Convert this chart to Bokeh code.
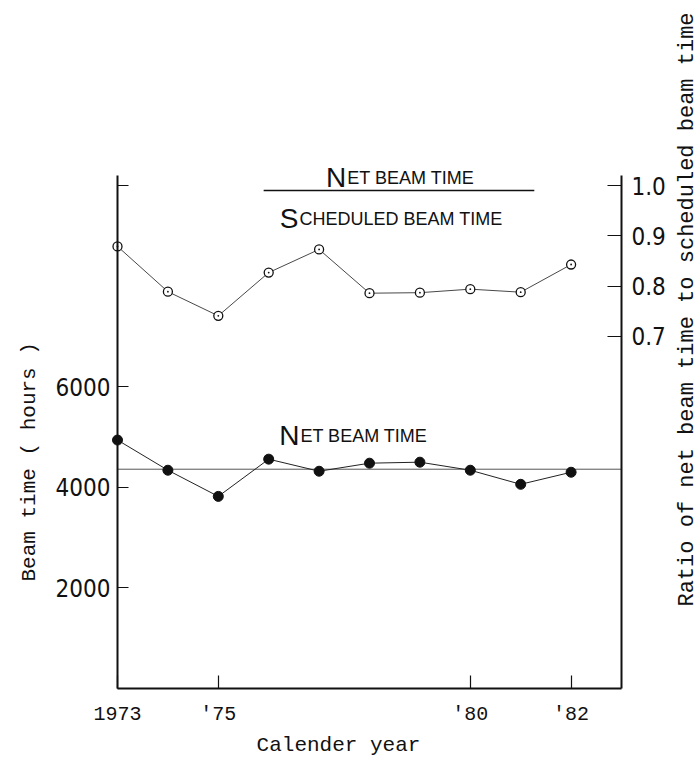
import math
from bokeh.plotting import figure
from bokeh.models import Range1d, LinearAxis, FixedTicker, Label, NumeralTickFormatter
from bokeh.embed import file_html
from bokeh.resources import INLINE

# ---- data ----
years = [1973, 1974, 1975, 1976, 1977, 1978, 1979, 1980, 1981, 1982]
net_hours = [4940, 4340, 3820, 4560, 4320, 4480, 4500, 4340, 4060, 4300]
ratio = [0.879, 0.789, 0.741, 0.827, 0.873, 0.786, 0.787, 0.794, 0.788, 0.843]
mean_hours = 4360

x_ticks = [1973, 1975, 1980, 1982]
x_tick_labels = ["1973", "'75", "'80", "'82"]
left_ticks = [2000, 4000, 6000, 10000]
left_tick_labels = ["2000", "4000", "6000", ""]
right_ticks = [0.7, 0.8, 0.9, 1.0]

# axis extents (data units)
X0, X1 = 1973, 1983          # bottom axis from left axis to right axis
H0, H1 = 0, 10200            # hours axis
R0, R1 = 0, 1.02             # ratio axis

NARROW = "Liberation Sans Narrow, DejaVu Sans Condensed, Liberation Sans, sans-serif"
SANS = "Liberation Sans"
MONO = "Liberation Mono"
INK = "#111111"

# layout: plot frame is the whole canvas; axes are pinned inside it
W, H = 700, 760
LEFT_PX, RIGHT_PX, BOTTOM_PX, TOP_PX = 117, 621, 688, 175
ppx = (RIGHT_PX - LEFT_PX) / (X1 - X0)
ppy = (BOTTOM_PX - TOP_PX) / (H1 - H0)
xr = Range1d(X0 - LEFT_PX / ppx, X1 + (W - RIGHT_PX) / ppx)
yr = Range1d(H0 - (H - BOTTOM_PX) / ppy, H1 + TOP_PX / ppy)
scale = (R1 - R0) / (H1 - H0)

p = figure(width=W, height=H, output_backend="svg", toolbar_location=None,
           x_range=xr, y_range=yr, x_axis_location=None, y_axis_location=None,
           min_border=0)
p.title.visible = False
p.grid.visible = False
p.outline_line_color = None
p.background_fill_color = "white"
p.border_fill_color = "white"

def style_axis(ax, font, size, tick_in, standoff):
    ax.major_tick_in = tick_in
    ax.major_tick_out = 0
    ax.minor_tick_line_color = None
    ax.axis_line_width = 2
    ax.axis_line_color = INK
    ax.major_tick_line_color = INK
    ax.major_tick_line_width = 1.2
    ax.major_label_text_font = font
    ax.major_label_text_font_size = size
    ax.major_label_text_color = INK
    ax.major_label_standoff = standoff

# bottom axis
xa = LinearAxis(ticker=FixedTicker(ticks=x_ticks), fixed_location=H0,
                bounds=(X0, X1))
xa.major_label_overrides = dict(zip(x_ticks, x_tick_labels))
style_axis(xa, MONO, "20px", 13, 14)
p.add_layout(xa, "below")

# left axis
ya = LinearAxis(ticker=FixedTicker(ticks=left_ticks), fixed_location=X0,
                bounds=(H0, H1))
ya.major_label_overrides = dict(zip(left_ticks, left_tick_labels))
style_axis(ya, NARROW, "24px", 11, 7)
p.add_layout(ya, "left")

# right axis (ratio)
p.extra_y_ranges = {"ratio": Range1d(yr.start * scale, yr.end * scale)}
ra = LinearAxis(y_range_name="ratio", ticker=FixedTicker(ticks=right_ticks),
                formatter=NumeralTickFormatter(format="0.0"), fixed_location=X1,
                bounds=(R0, R1))
style_axis(ra, NARROW, "24px", 14, 10)
p.add_layout(ra, "right")

# mean line of net beam time
p.line([X0, X1], [mean_hours, mean_hours], line_color="#555555", line_width=1)

# net beam time
p.line(years, net_hours, line_color="#222222", line_width=1)
p.scatter(years, net_hours, size=10, marker="circle", fill_color=INK, line_color=INK)
# ratio
p.line(years, ratio, y_range_name="ratio", line_color="#333333", line_width=0.9)
p.scatter(years, ratio, y_range_name="ratio", size=9, marker="circle",
          fill_color="white", line_color=INK, line_width=1.3)
p.scatter(years, ratio, y_range_name="ratio", size=1.8, marker="circle",
          fill_color=INK, line_color=None)

# fraction bar of the ratio title
p.segment(x0=[1975.9], y0=[9902], x1=[1981.27], y1=[9902],
          line_color=INK, line_width=1.5)

def add_label(**kw):
    p.add_layout(Label(text_color=INK, **kw))

def smallcaps(x, y, first, rest):
    add_label(x=x, y=y, text=first, text_align="right",
              text_baseline="alphabetic", text_font=SANS, text_font_size="28px")
    add_label(x=x, y=y, text=rest, text_align="left",
              text_baseline="alphabetic", text_font=SANS, text_font_size="18px",
              x_offset=1)

smallcaps(1977.54, 10160, "N", "ET BEAM TIME")
smallcaps(1976.59, 9345, "S", "CHEDULED BEAM TIME")
smallcaps(1976.61, 5030, "N", "ET BEAM TIME")

# axis titles
add_label(x=1977.385, y=-1133, text="Calender year", text_align="center",
          text_baseline="middle", text_font=MONO, text_font_size="21px")
add_label(x=1971.254, y=4633, text="Beam time  ( hours )", angle=90,
          angle_units="deg", text_align="center", text_baseline="middle",
          text_font=MONO, text_font_size="21px")
add_label(x=1984.31, y=7536, text="Ratio of net beam time to scheduled beam time",
          angle=90, angle_units="deg", text_align="center", text_baseline="middle",
          text_font=MONO, text_font_size="22px")

open("out.html", "w").write(file_html(p, INLINE))
